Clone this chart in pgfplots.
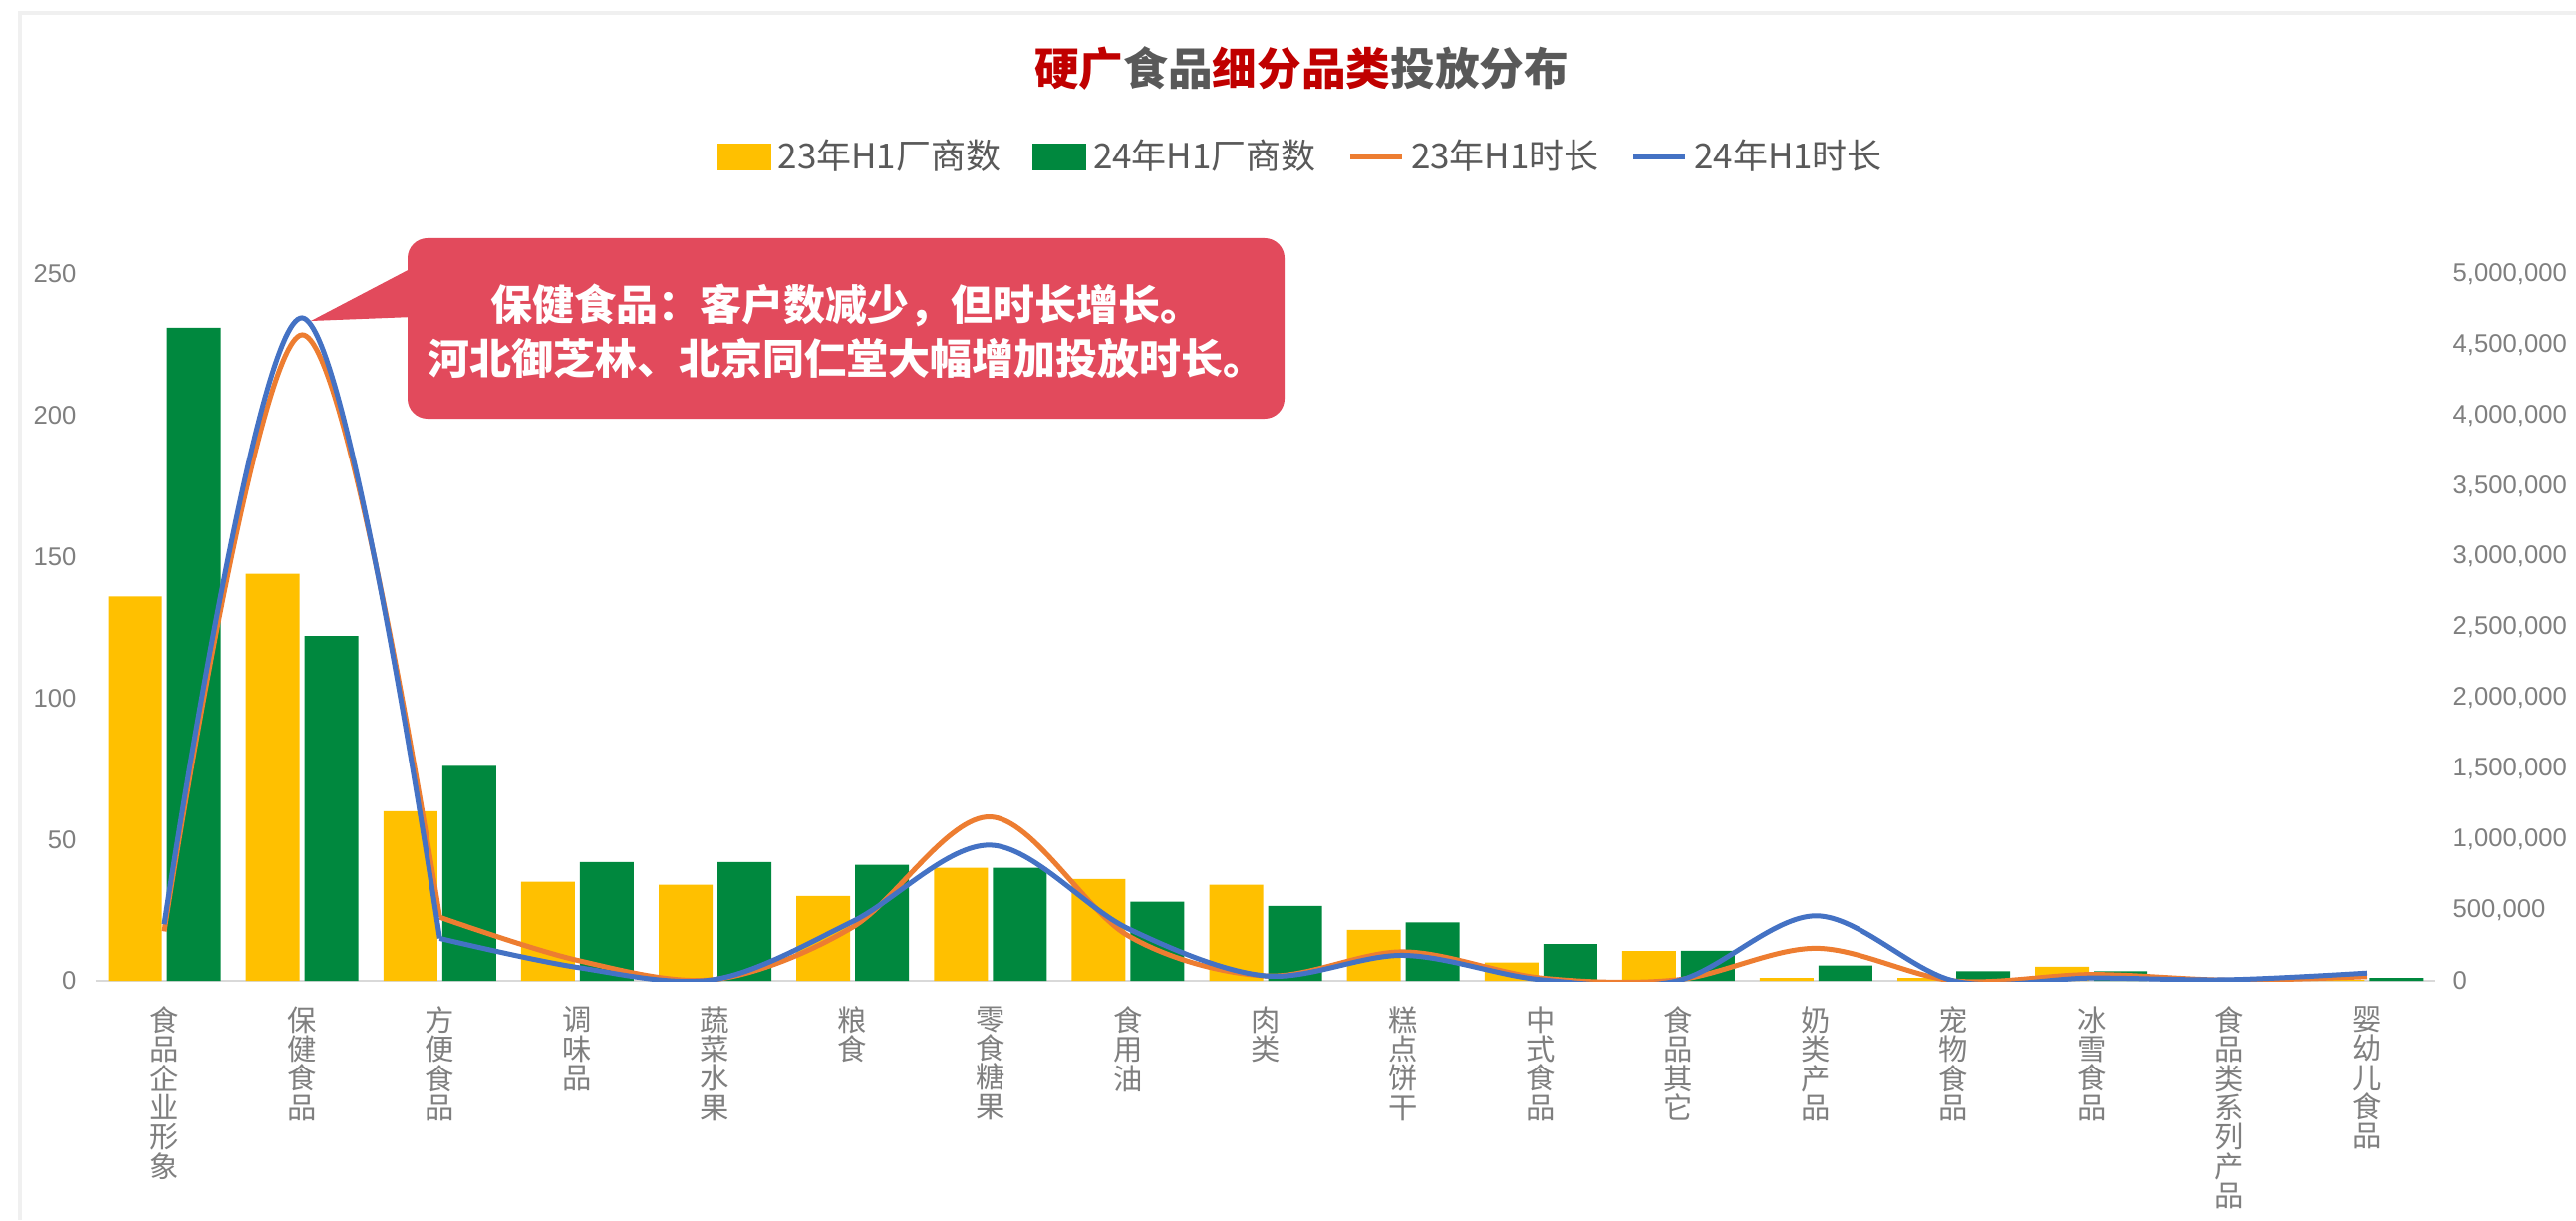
\documentclass[border=0pt]{standalone}
\usepackage{fontspec}
\usepackage{pgfplots}
\pgfplotsset{compat=1.18}
\setmainfont{Liberation Sans}
\newfontfamily\cjk{Noto Sans CJK SC}
\definecolor{cyellow}{HTML}{FFC000}
\definecolor{cgreen}{HTML}{00883E}
\definecolor{corange}{HTML}{ED7D31}
\definecolor{cblue}{HTML}{4472C4}
\definecolor{tgray}{HTML}{595959}
\definecolor{lgray}{HTML}{7F7F7F}
\definecolor{tred}{HTML}{C00000}
\definecolor{callout}{HTML}{E24A5C}
\definecolor{axgray}{HTML}{D9D9D9}
\begin{document}
\begin{tikzpicture}
\path[use as bounding box] (0,0) rectangle (775.5pt,367.2pt);
\begin{scope}[x=0.3pt,y=-0.3pt,shift={(0pt,367.2pt)}]
\draw[color=black!6, line width=1.2pt] (20,1224) -- (20,13) -- (2585,13);
\node[font=\cjk\bfseries\fontsize{13.4}{15}\selectfont] at (1306,69)
  {\textcolor{tred}{硬广}\textcolor{tgray}{食品}\textcolor{tred}{细分品类}\textcolor{tgray}{投放分布}};
\end{scope}

\begin{axis}[
  at={(28.8pt,72pt)}, anchor=south west, scale only axis,
  width=704.4pt, height=212.7pt,
  xmin=-0.5, xmax=16.5, ymin=0, ymax=250,
  ybar, bar width=16.2pt,
  xtick={0,...,16},
  xticklabels={{食\\品\\企\\业\\形\\象},{保\\健\\食\\品},{方\\便\\食\\品},{调\\味\\品},{蔬\\菜\\水\\果},{粮\\食},{零\\食\\糖\\果},{食\\用\\油},{肉\\类},{糕\\点\\饼\\干},{中\\式\\食\\品},{食\\品\\其\\它},{奶\\类\\产\\品},{宠\\物\\食\\品},{冰\\雪\\食\\品},{食\\品\\类\\系\\列\\产\\品},{婴\\幼\\儿\\食\\品}},
  ytick={0,50,...,250},
  axis line style={draw=none}, tick style={draw=none}, major tick length=0pt,
  /pgf/number format/assume math mode=true,
  yticklabel style={font=\fontsize{7.7}{8}\selectfont, text=lgray, anchor=east, inner sep=0pt, xshift=-5.7pt},
  xticklabel style={font=\cjk\fontsize{8.8}{8.8}\selectfont, text=lgray, anchor=north, align=center, inner sep=0pt, yshift=-7.5pt},
]
\draw[color=axgray, line width=0.6pt] (axis cs:-0.5,0) -- (axis cs:16.5,0);
\addplot[fill=cyellow, draw=none, bar shift=-8.85pt] coordinates {
(0,136) (1,144) (2,60) (3,35) (4,34) (5,30) (6,40) (7,36) (8,34) (9,18) (10,6.5) (11,10.5) (12,1) (13,1) (14,5) (15,0) (16,0.3)};
\addplot[fill=cgreen, draw=none, bar shift=8.85pt] coordinates {
(0,231) (1,122) (2,76) (3,42) (4,42) (5,41) (6,40) (7,28) (8,26.5) (9,20.7) (10,13) (11,10.6) (12,5.4) (13,3.4) (14,3.4) (15,0) (16,1)};
\end{axis}

\begin{axis}[
  at={(28.8pt,72pt)}, anchor=south west, scale only axis,
  width=704.4pt, height=212.7pt,
  xmin=-0.5, xmax=16.5, ymin=0, ymax=5000000,
  hide x axis,
  ytick={0,500000,...,5000000}, scaled y ticks=false,
  yticklabel pos=right,
  axis line style={draw=none}, tick style={draw=none}, major tick length=0pt,
  /pgf/number format/assume math mode=true,
  yticklabel style={font=\fontsize{7.7}{8}\selectfont, text=lgray, anchor=west, inner sep=0pt, xshift=5.1pt,
    /pgf/number format/fixed, /pgf/number format/1000 sep={,}},
  legend style={at={(0.516,1.166)}, anchor=center, draw=none, fill=none,
    legend columns=4, font=\cjk\fontsize{10.5}{12}\selectfont, text=tgray,
    /tikz/every even column/.append style={column sep=7.5pt}},
]
\addlegendimage{legend image code/.code={\fill[cyellow] (0pt,-3.9pt) rectangle (15.9pt,3.9pt);}}
\addlegendentry{23年H1厂商数}
\addlegendimage{legend image code/.code={\fill[cgreen] (0pt,-3.9pt) rectangle (15.9pt,3.9pt);}}
\addlegendentry{24年H1厂商数}
\addplot[corange, line width=1.5pt, smooth, tension=0.6, no markers,
  legend image code/.code={\draw[corange, line width=1.5pt] (0pt,0pt) -- (15.6pt,0pt);}] coordinates {
(0,350000) (1,4570000) (2,450000)};
\addlegendentry{23年H1时长}
\addplot[corange, line width=1.5pt, smooth, tension=0.55, no markers, forget plot] coordinates {
(2,450000) (3,145000) (4,10000) (5,380000) (6,1160000) (7,320000) (8,35000) (9,205000) (10,20000) (11,8000) (12,230000) (13,0) (14,45000) (15,5000) (16,30000)};
\addplot[cblue, line width=1.5pt, smooth, tension=0.6, no markers,
  legend image code/.code={\draw[cblue, line width=1.5pt] (0pt,0pt) -- (15.6pt,0pt);}] coordinates {
(0,400000) (1,4690000) (2,300000)};
\addlegendentry{24年H1时长}
\addplot[cblue, line width=1.5pt, smooth, tension=0.55, no markers, forget plot] coordinates {
(2,300000) (3,95000) (4,10000) (5,420000) (6,960000) (7,370000) (8,35000) (9,180000) (10,8000) (11,2000) (12,460000) (13,0) (14,20000) (15,8000) (16,55000)};
\end{axis}

\begin{scope}[x=0.3pt,y=-0.3pt,shift={(0pt,367.2pt)}]
\fill[callout, rounded corners=6pt] (409,239) rectangle (1289,420);
\fill[callout] (312,322) -- (415,268) -- (415,318) -- cycle;
\node[text=white, font=\cjk\bfseries\fontsize{12.6}{16.2}\selectfont, align=center] at (849,332)
  {保健食品：客户数减少，但时长增长。\\河北御芝林、北京同仁堂大幅增加投放时长。};
\end{scope}
\end{tikzpicture}
\end{document}
